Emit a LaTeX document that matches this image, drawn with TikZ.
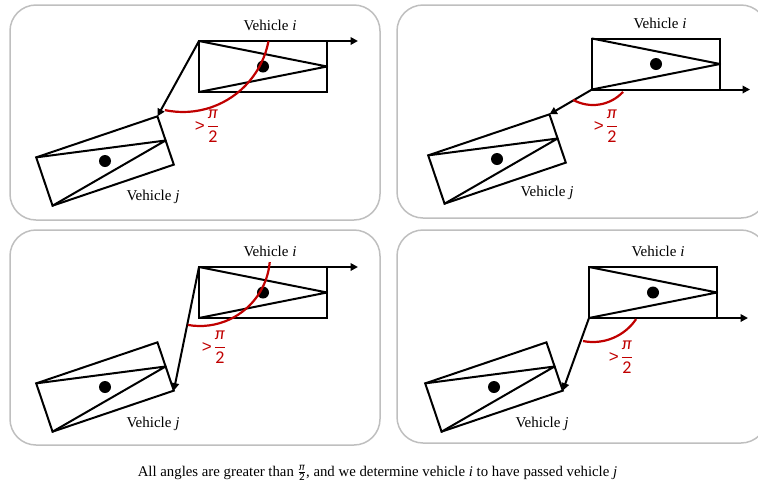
\documentclass[tikz,border=0pt]{standalone}
\usepackage{fontspec}
\setmainfont{Liberation Serif}
\newfontfamily\carlito{Carlito}
\newfontfamily\lsans{Liberation Sans}
\usetikzlibrary{calc,arrows.meta}
\definecolor{panelgray}{HTML}{BFBFBF}
\definecolor{arcred}{HTML}{C00000}
\tikzset{
  panel/.style={draw=panelgray, line width=1.5pt, rounded corners=26pt},
  body/.style={draw=black, line width=2pt, line join=miter},
  wedge/.style={draw=black, line width=2pt, line join=round, line cap=round},
  vec/.style={draw=black, line width=2pt, -{Triangle[length=7.5pt,width=7.5pt]}},
  anglearc/.style={draw=arcred, line width=2.2pt},
  vlabel/.style={font=\fontsize{15}{18}\selectfont, inner sep=0pt},
  alabel/.style={text=arcred, font=\fontsize{18}{20}\selectfont\carlito, inner sep=0pt},
  vdot/.style={fill=black, circle, minimum size=12pt, inner sep=0pt},
}
\newcommand\drawvehicle[4]{%
  \begin{scope}[shift={(#2,#3)}, rotate=#4]
    \coordinate (#1-tl) at (-64,-25.5);
    \coordinate (#1-tr) at (64,-25.5);
    \coordinate (#1-br) at (64,25.5);
    \coordinate (#1-bl) at (-64,25.5);
    \coordinate (#1-ap) at (64,0);
    \node[vdot] (#1-c) at (0,0) {};
  \end{scope}
  \draw[body] (#1-tl) -- (#1-tr) -- (#1-br) -- (#1-bl) -- cycle;
  \draw[wedge] (#1-tl) -- (#1-ap) -- (#1-bl);
}
\newcommand\gtfrac{\raisebox{-1.5pt}{\lsans\fontsize{17}{17}\selectfont >}\hspace{2pt}$\displaystyle\frac{\mbox{\carlito\itshape π}}{\mbox{\carlito 2}}$}
\begin{document}
\begin{tikzpicture}[x=1pt,y=-1pt]
  \path[use as bounding box] (0,0) rectangle (758,488);
  \clip (0,0) rectangle (758,488);
  % panels
  \draw[panel] (10,5) rectangle (380,220);
  \draw[panel] (397,5) rectangle (767,218);
  \draw[panel] (10,230) rectangle (380,445);
  \draw[panel] (397,230) rectangle (767,443);

  % ---------- panel 1
  \drawvehicle{ia}{263}{66.5}{0}
  \drawvehicle{ja}{105}{161}{18.7}
  \coordinate (ea) at (358,41);
  \draw[vec] (ia-tl) -- (ea);
  \draw[vec] (ia-tl) -- (ja-tr);
  \coordinate (ca) at (183,25);
  \draw[anglearc] (ca) ++(10.7:87) arc[start angle=10.7, end angle=102, radius=87];
  \node[alabel] (la) at (207,126) {\gtfrac};
  \node[vlabel] (tia) at (270,25) {Vehicle \textit{i}};
  \node[vlabel] (tja) at (153,197) {Vehicle \textit{j}};

  % ---------- panel 2
  \drawvehicle{ib}{656}{64}{0}
  \drawvehicle{jb}{497}{159}{18.7}
  \coordinate (eb) at (750,89.5);
  \draw[vec] (ib-bl) -- (eb);
  \draw[vec] (ib-bl) -- (jb-tr);
  \coordinate (cb) at (593,64);
  \draw[anglearc] (cb) ++(43:41) arc[start angle=43, end angle=119, radius=41];
  \node[alabel] (lb) at (606,126) {\gtfrac};
  \node[vlabel] (tib) at (660,23) {Vehicle \textit{i}};
  \node[vlabel] (tjb) at (547,193) {Vehicle \textit{j}};

  % ---------- panel 3
  \drawvehicle{ic}{263}{292.5}{0}
  \drawvehicle{jc}{105}{387}{18.7}
  \coordinate (ec) at (358,267);
  \draw[vec] (ic-tl) -- (ec);
  \draw[vec] (ic-tl) -- (jc-br);
  \coordinate (cc) at (200,256);
  \draw[anglearc] (cc) ++(5:70) arc[start angle=5, end angle=100, radius=70];
  \node[alabel] (lc) at (214,347) {\gtfrac};
  \node[vlabel] (tic) at (270,251) {Vehicle \textit{i}};
  \node[vlabel] (tjc) at (153,424) {Vehicle \textit{j}};

  % ---------- panel 4
  \drawvehicle{id}{653}{292.5}{0}
  \drawvehicle{jd}{494}{387}{18.7}
  \coordinate (ed) at (748,318);
  \draw[vec] (id-bl) -- (ed);
  \draw[vec] (id-bl) -- (jd-br);
  \coordinate (cd) at (593,290);
  \draw[anglearc] (cd) ++(34:52) arc[start angle=34, end angle=101, radius=52];
  \node[alabel] (ld) at (621,357) {\gtfrac};
  \node[vlabel] (tid) at (658,251) {Vehicle \textit{i}};
  \node[vlabel] (tjd) at (542,424) {Vehicle \textit{j}};

  % caption
  \node[font=\fontsize{14.8}{17}\selectfont, inner sep=0pt, anchor=base] (cap) at (377.5,476)
    {All angles are greater than $\frac{\mbox{\fontsize{11}{11}\selectfont\carlito\itshape π}}{\mbox{\fontsize{11}{11}\selectfont\carlito 2}}$, and we determine vehicle \textit{i} to have passed vehicle \textit{j}};
\end{tikzpicture}
\end{document}
